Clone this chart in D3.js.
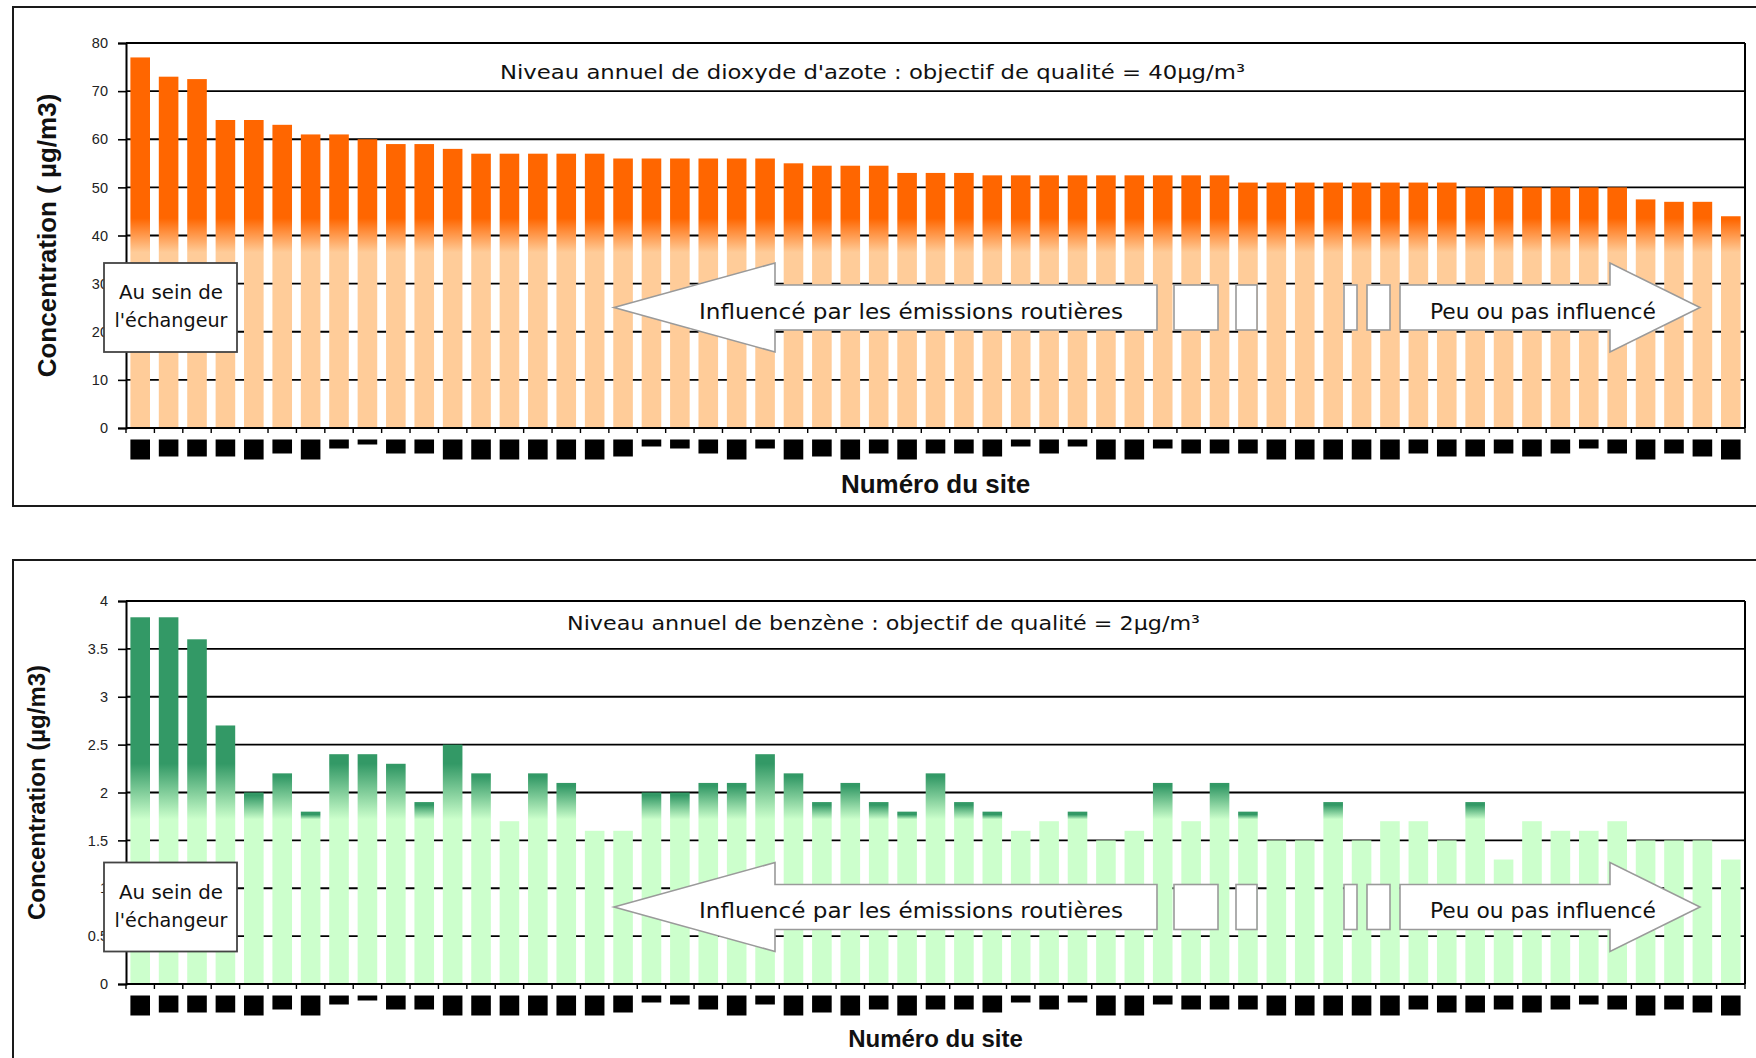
<!DOCTYPE html>
<html>
<head>
<meta charset="utf-8">
<script src="https://cdn.jsdelivr.net/npm/d3@7"></script>
<style>
  html, body { margin: 0; padding: 0; background: #fff; overflow: hidden; }
  svg { display: block; }
</style>
</head>
<body>
<svg id="chart" width="1756" height="1058"></svg>
<script>
// Measurement sites, ordered by decreasing NO2 level (their numbers are masked on the figure)
const sites = ["1","2","3","4","5","6","7","8","9","10","11","12","13","14","15","16","17","18","19","20",
  "21","22","23","24","25","26","27","28","29","30","31","32","33","34","35","36","37","38","39","40",
  "41","42","43","44","45","46","47","48","49","50","51","52","53","54","55","56","57"];

// Annual nitrogen dioxide level per site (µg/m3)
const no2Values = [77, 73, 72.5, 64, 64, 63, 61, 61, 60, 59, 59, 58, 57, 57, 57, 57, 57, 56, 56, 56,
  56, 56, 56, 55, 54.5, 54.5, 54.5, 53, 53, 53, 52.5, 52.5, 52.5, 52.5, 52.5, 52.5, 52.5, 52.5, 52.5, 51,
  51, 51, 51, 51, 51, 51, 51, 50, 50, 50, 50, 50, 50, 47.5, 47, 47, 44];

// Annual benzene level per site (µg/m3)
const benzeneValues = [3.83, 3.83, 3.6, 2.7, 2.0, 2.2, 1.8, 2.4, 2.4, 2.3, 1.9, 2.5, 2.2, 1.7, 2.2, 2.1, 1.6, 1.6, 2.0, 2.0,
  2.1, 2.1, 2.4, 2.2, 1.9, 2.1, 1.9, 1.8, 2.2, 1.9, 1.8, 1.6, 1.7, 1.8, 1.5, 1.6, 2.1, 1.7, 2.1, 1.8,
  1.5, 1.5, 1.9, 1.5, 1.7, 1.7, 1.5, 1.9, 1.3, 1.7, 1.6, 1.6, 1.7, 1.5, 1.5, 1.5, 1.3];

// Y-axis tick values
const no2Ticks = [0, 10, 20, 30, 40, 50, 60, 70, 80];
const benzeneTicks = [0, 0.5, 1, 1.5, 2, 2.5, 3, 3.5, 4];

// Size class of the mask hiding each site label
const siteMaskClass = ["xl","l","l","l","xl","m","xl","s","d","m","m","xl","xl","xl","xl","xl","xl","l","xs","s",
  "m","xl","s","xl","l","xl","m","xl","m","m","l","xs","m","xs","xl","xl","s","m","m","m",
  "xl","xl","xl","xl","xl","m","l","l","m","l","m","s","m","xl","m","l","xl"];

// Text content
const no2Title = "Niveau annuel de dioxyde d'azote : objectif de qualité = 40µg/m³";
const benzeneTitle = "Niveau annuel de benzène : objectif de qualité = 2µg/m³";
const leftArrowText = "Influencé par les émissions routières";
const rightArrowText = "Peu ou pas influencé";
const boxLines = ["Au sein de", "l'échangeur"];

// ---- styling / layout ----
const maskHeight = { xl: 20, l: 17, m: 14, s: 9, xs: 7, d: 5 };
const handFont = "'DejaVu Sans', 'Noto Sans', sans-serif";
const axisFont = "'Liberation Sans Narrow', 'Liberation Sans', Arial, sans-serif";
const boldFont = "'Liberation Sans', Arial, sans-serif";

const panels = [
  {
    id: "no2", values: no2Values, ticks: no2Ticks, domain: [0, 80],
    frame: { x: 13, y: 7, w: 1760, h: 499 },
    plot: { left: 126, right: 1745, top: 43, bottom: 428 },
    dark: "#ff6600", light: "#ffcc99", fadeHi: 43.6, fadeLo: 36.5,
    title: { text: no2Title, x: 500, y: 79, w: 745 },
    yTitle: { text: "Concentration ( µg/m3)", x: 47, size: 26 },
    xTitle: { y: 493, size: 26 },
    annY: 307.5
  },
  {
    id: "benz", values: benzeneValues, ticks: benzeneTicks, domain: [0, 4],
    frame: { x: 13, y: 560, w: 1760, h: 520 },
    plot: { left: 126, right: 1745, top: 601, bottom: 984 },
    dark: "#339966", light: "#ccffcc", fadeHi: 2.3, fadeLo: 1.72,
    title: { text: benzeneTitle, x: 567, y: 630, w: 633 },
    yTitle: { text: "Concentration (µg/m3)", x: 36, size: 24 },
    xTitle: { y: 1047, size: 24 },
    annY: 907
  }
];

const svg = d3.select("#chart");
const defs = svg.append("defs");

panels.forEach(drawPanel);

function drawPanel(p) {
  const g = svg.append("g").attr("class", "panel-" + p.id);

  // outer frame
  g.append("rect")
    .attr("x", p.frame.x).attr("y", p.frame.y)
    .attr("width", p.frame.w).attr("height", p.frame.h)
    .attr("fill", "#fff").attr("stroke", "#1a1a1a").attr("stroke-width", 2);

  const x = d3.scaleBand().domain(sites)
    .range([p.plot.left, p.plot.right])
    .paddingInner(0.31).paddingOuter(0.155);
  const y = d3.scaleLinear().domain(p.domain).range([p.plot.bottom, p.plot.top]);

  // horizontal gridlines (behind the bars)
  g.append("g").selectAll("line").data(p.ticks).join("line")
    .attr("x1", p.plot.left).attr("x2", p.plot.right)
    .attr("y1", d => y(d)).attr("y2", d => y(d))
    .attr("stroke", "#000").attr("stroke-width", 1.8);

  // bars: solid colour at the top, fading to the pale tone near the quality objective
  const cap = 3;
  const yHi = y(p.fadeHi), yLo = y(p.fadeLo);
  p.values.forEach((v, i) => {
    const top = y(v);
    let fill = p.light;
    if (top < yLo) {
      const gid = `grad-${p.id}-${i}`;
      const start = Math.max(top + cap, yHi);
      const grad = defs.append("linearGradient").attr("id", gid)
        .attr("gradientUnits", "userSpaceOnUse")
        .attr("x1", 0).attr("x2", 0).attr("y1", start).attr("y2", Math.max(yLo, start + 1));
      grad.append("stop").attr("offset", 0).attr("stop-color", p.dark);
      grad.append("stop").attr("offset", 1).attr("stop-color", p.light);
      fill = `url(#${gid})`;
    }
    g.append("rect")
      .attr("x", x(sites[i])).attr("width", x.bandwidth())
      .attr("y", top).attr("height", y(0) - top)
      .attr("fill", fill);
  });

  // plot border on the right
  g.append("line")
    .attr("x1", p.plot.right).attr("x2", p.plot.right)
    .attr("y1", p.plot.top).attr("y2", p.plot.bottom)
    .attr("stroke", "#000").attr("stroke-width", 2);

  // y axis
  const yAxis = d3.axisLeft(y).tickValues(p.ticks).tickSize(8).tickPadding(10)
    .tickFormat(d3.format("~g"));
  const ya = g.append("g").attr("transform", `translate(${p.plot.left},0)`).call(yAxis);
  ya.select(".domain").attr("stroke", "#000").attr("stroke-width", 2);
  ya.selectAll(".tick line").attr("stroke", "#000").attr("stroke-width", 1.6);
  ya.selectAll(".tick text")
    .attr("font-family", axisFont).attr("font-size", 14.5).attr("fill", "#222");

  // x axis baseline with ticks on the band boundaries
  g.append("line")
    .attr("x1", p.plot.left).attr("x2", p.plot.right)
    .attr("y1", y(0)).attr("y2", y(0))
    .attr("stroke", "#000").attr("stroke-width", 2);
  const gap = x.step() - x.bandwidth();
  const bounds = [p.plot.left].concat(sites.slice(1).map(s => x(s) - gap / 2), [p.plot.right]);
  g.append("g").selectAll("line").data(bounds).join("line")
    .attr("x1", d => d).attr("x2", d => d)
    .attr("y1", y(0)).attr("y2", y(0) + 5)
    .attr("stroke", "#000").attr("stroke-width", 1.4);

  // masked site labels
  g.append("g").selectAll("rect").data(sites).join("rect")
    .attr("x", d => x(d)).attr("width", x.bandwidth())
    .attr("y", y(0) + 11.5)
    .attr("height", (d, i) => maskHeight[siteMaskClass[i]])
    .attr("fill", "#000");

  // chart title
  g.append("text")
    .attr("x", p.title.x).attr("y", p.title.y)
    .attr("textLength", p.title.w).attr("lengthAdjust", "spacingAndGlyphs")
    .attr("font-family", handFont).attr("font-size", 20).attr("fill", "#111")
    .text(p.title.text);

  // annotations
  const cy = p.annY;
  const ann = g.append("g");
  const stroke = "#9a9a9a";
  // "Au sein de l'échangeur" box
  ann.append("rect").attr("x", 104).attr("y", cy - 44.5).attr("width", 133).attr("height", 89)
    .attr("fill", "#fff").attr("stroke", "#444").attr("stroke-width", 1.8);
  ann.append("text").attr("x", 171).attr("y", cy - 8.5).attr("text-anchor", "middle")
    .attr("textLength", 104).attr("lengthAdjust", "spacingAndGlyphs")
    .attr("font-family", handFont).attr("font-size", 19).attr("fill", "#111").text(boxLines[0]);
  ann.append("text").attr("x", 171).attr("y", cy + 19.5).attr("text-anchor", "middle")
    .attr("textLength", 113).attr("lengthAdjust", "spacingAndGlyphs")
    .attr("font-family", handFont).attr("font-size", 19).attr("fill", "#111").text(boxLines[1]);

  // left-pointing arrow
  const bh = 22.5, hh = 44.5;
  ann.append("path")
    .attr("d", `M614,${cy} L775,${cy - hh} L775,${cy - bh} L1157,${cy - bh} L1157,${cy + bh} L775,${cy + bh} L775,${cy + hh} Z`)
    .attr("fill", "#fff").attr("stroke", stroke).attr("stroke-width", 1.6);
  ann.append("text").attr("x", 699).attr("y", cy + 11)
    .attr("textLength", 424).attr("lengthAdjust", "spacingAndGlyphs")
    .attr("font-family", handFont).attr("font-size", 21).attr("fill", "#111").text(leftArrowText);

  // small separator blocks between the two arrows
  [[1174, 1218], [1236, 1257], [1344, 1357], [1367, 1390]].forEach(([a, b]) => {
    ann.append("rect").attr("x", a).attr("y", cy - bh).attr("width", b - a).attr("height", 2 * bh)
      .attr("fill", "#fff").attr("stroke", stroke).attr("stroke-width", 1.6);
  });

  // right-pointing arrow
  ann.append("path")
    .attr("d", `M1400,${cy - bh} L1610,${cy - bh} L1610,${cy - hh} L1700,${cy} L1610,${cy + hh} L1610,${cy + bh} L1400,${cy + bh} Z`)
    .attr("fill", "#fff").attr("stroke", stroke).attr("stroke-width", 1.6);
  ann.append("text").attr("x", 1430).attr("y", cy + 11)
    .attr("textLength", 226).attr("lengthAdjust", "spacingAndGlyphs")
    .attr("font-family", handFont).attr("font-size", 21).attr("fill", "#111").text(rightArrowText);

  // axis titles
  g.append("text")
    .attr("transform", `translate(${p.yTitle.x},${(p.plot.top + p.plot.bottom) / 2}) rotate(-90)`)
    .attr("text-anchor", "middle").attr("dominant-baseline", "central")
    .attr("font-family", boldFont).attr("font-weight", "bold").attr("font-size", p.yTitle.size)
    .attr("fill", "#111").text(p.yTitle.text);
  g.append("text")
    .attr("x", (p.plot.left + p.plot.right) / 2).attr("y", p.xTitle.y)
    .attr("text-anchor", "middle")
    .attr("font-family", boldFont).attr("font-weight", "bold").attr("font-size", p.xTitle.size)
    .attr("fill", "#111").text("Numéro du site");
}
</script>
</body>
</html>
